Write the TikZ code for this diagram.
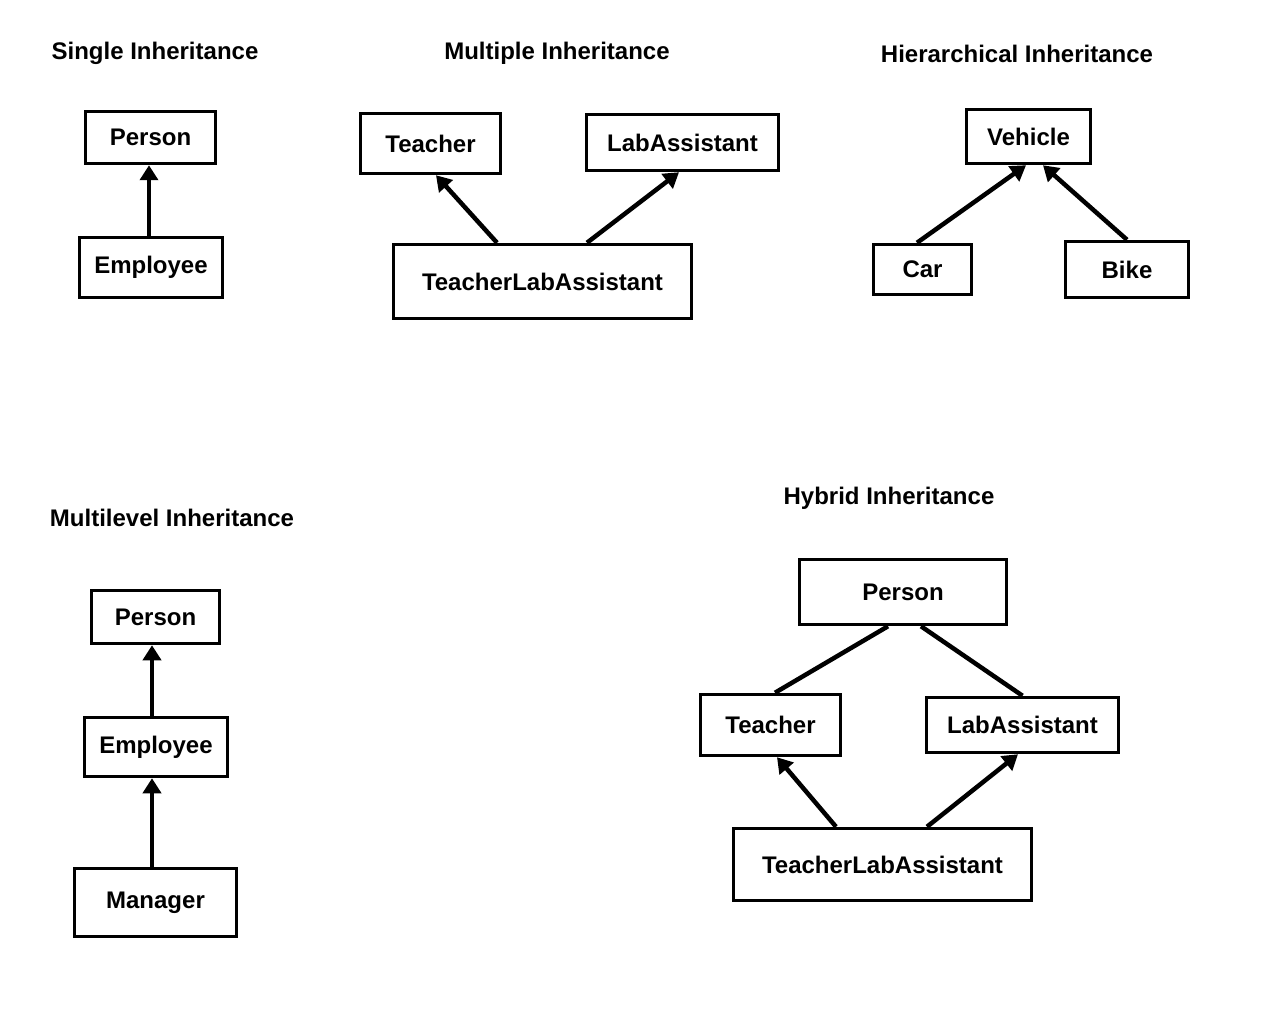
\documentclass[tikz,border=0pt]{standalone}
\usepackage{fontspec}
\setmainfont{Liberation Sans}
\usetikzlibrary{arrows.meta}
\begin{document}
\begin{tikzpicture}[x=1pt,y=-1pt,
  box/.style={draw=black,line width=3.5pt,inner sep=0pt,font=\fontsize{24}{28}\selectfont\bfseries},
  ttl/.style={inner sep=0pt,font=\fontsize{24}{28}\selectfont\bfseries},
  arr/.style={line width=4.5pt,-{Triangle[length=15pt,width=18pt]}},
  ln/.style={line width=4.5pt}]
\useasboundingbox[fill=white] (0,0) rectangle (1280,1024);
% titles
\node[ttl] (t1) at (155,53) {Single Inheritance};
\node[ttl] (t2) at (557,53) {Multiple Inheritance};
\node[ttl] (t3) at (1017,54) {Hierarchical Inheritance};
\node[ttl] (t4) at (172,518) {Multilevel Inheritance};
\node[ttl] (t5) at (889,498) {Hybrid Inheritance};
% single
\node[box,minimum width=130pt,minimum height=52pt] (sP) at (150.5,137.5) {Person};
\node[box,minimum width=143pt,minimum height=60pt] (sE) at (151,267.5) {Employee};
\draw[arr] ([xshift=-2pt]sE.north) -- ([xshift=-1.5pt]sP.south);
% multiple
\node[box,minimum width=140pt,minimum height=60pt] (mT) at (430.5,143.5) {Teacher};
\node[box,minimum width=192pt,minimum height=56pt] (mL) at (682.5,142.5) {LabAssistant};
\node[box,minimum width=298pt,minimum height=74pt] (mTL) at (542.5,281.5) {TeacherLabAssistant};
\draw[arr] ([xshift=-45.5pt]mTL.north) -- ([xshift=5.5pt]mT.south);
\draw[arr] ([xshift=44.5pt]mTL.north) -- ([xshift=-3.5pt]mL.south);
% hierarchical
\node[box,minimum width=124pt,minimum height=54pt] (hV) at (1028.5,136.5) {Vehicle};
\node[box,minimum width=98pt,minimum height=50pt] (hC) at (922.5,269.5) {Car};
\node[box,minimum width=123pt,minimum height=56pt] (hB) at (1127,269.5) {Bike};
\draw[arr] ([xshift=-5.5pt]hC.north) -- ([xshift=-2.5pt]hV.south);
\draw[arr] (hB.north) -- ([xshift=14.5pt]hV.south);
% multilevel
\node[box,minimum width=128pt,minimum height=53pt] (lP) at (155.5,617) {Person};
\node[box,minimum width=143pt,minimum height=59pt] (lE) at (156,747) {Employee};
\node[box,minimum width=162pt,minimum height=68pt] (lM) at (155.5,902.5) {Manager};
\draw[arr] ([xshift=-3.5pt]lM.north) -- ([xshift=-4pt]lE.south);
\draw[arr] ([xshift=-4pt]lE.north) -- ([xshift=-3.5pt]lP.south);
% hybrid
\node[box,minimum width=207pt,minimum height=65pt] (yP) at (903,592) {Person};
\node[box,minimum width=140pt,minimum height=61pt] (yT) at (770.5,725) {Teacher};
\node[box,minimum width=192pt,minimum height=55pt] (yL) at (1022.5,725) {LabAssistant};
\node[box,minimum width=298pt,minimum height=72pt] (yTL) at (882.5,864.5) {TeacherLabAssistant};
\draw[ln] ([xshift=-15pt]yP.south) -- ([xshift=4.5pt]yT.north);
\draw[ln] ([xshift=18pt]yP.south) -- (yL.north);
\draw[arr] ([xshift=-46.5pt]yTL.north) -- ([xshift=6.5pt]yT.south);
\draw[arr] ([xshift=44.5pt]yTL.north) -- ([xshift=-4.5pt]yL.south);
\end{tikzpicture}
\end{document}
